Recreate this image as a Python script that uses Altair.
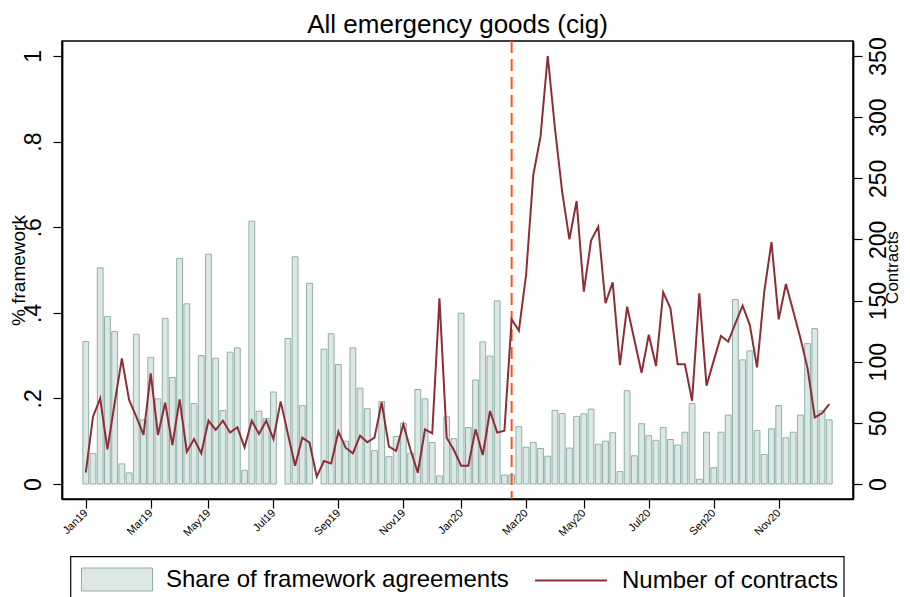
import altair as alt
import pandas as pd

week = list(range(104))

share = [0.333, 0.071, 0.505, 0.391, 0.356, 0.047, 0.026, 0.350, 0.150, 0.296,
         0.199, 0.387, 0.249, 0.527, 0.421, 0.188, 0.300, 0.537, 0.294, 0.172,
         0.308, 0.318, 0.032, 0.614, 0.170, 0.153, 0.215, None, 0.340, 0.531,
         0.183, 0.469, None, 0.315, 0.351, 0.279, 0.100, 0.318, 0.224, 0.176,
         0.078, 0.193, 0.064, 0.111, 0.142, 0.072, 0.221, 0.199, 0.097, 0.019,
         0.157, 0.106, 0.399, 0.132, 0.243, 0.332, 0.299, 0.428, 0.021, 0.021,
         0.134, 0.086, 0.097, 0.083, 0.065, 0.172, 0.165, 0.084, 0.158, 0.164,
         0.175, 0.093, 0.100, 0.120, 0.029, 0.218, 0.066, 0.141, 0.113, 0.102,
         0.132, 0.104, 0.091, 0.121, 0.188, 0.011, 0.121, 0.038, 0.121, 0.161,
         0.431, 0.290, 0.311, 0.125, 0.069, 0.129, 0.183, 0.108, 0.121, 0.161,
         0.328, 0.363, 0.171, 0.150]

contracts = [9.3, 55.1, 70.1, 28.4, 66.0, 102.8, 68.7, 55.1, 40.1, 90.5,
             40.1, 66.5, 31.9, 69.2, 26.4, 36.8, 25.1, 51.8, 44.2, 51.8,
             42.0, 46.4, 30.0, 51.8, 40.9, 51.8, 36.8, 67.6, 41.0, 15.0,
             37.9, 33.8, 6.0, 18.8, 16.9, 42.8, 29.7, 25.1, 39.5, 34.1,
             37.9, 66.8, 30.5, 27.2, 48.8, 27.8, 9.2, 44.7, 41.5, 151.9,
             37.9, 27.8, 15.0, 15.0, 44.7, 23.7, 59.7, 42.0, 43.6, 134.7,
             125.4, 170.9, 252.7, 284.0, 350.0, 290.9, 239.1, 200.1, 231.4, 157.3,
             199.0, 210.4, 147.8, 164.9, 97.3, 145.0, 118.0, 91.0, 122.1, 96.5,
             156.8, 143.7, 97.9, 97.9, 68.1, 155.9, 80.4, 100.9, 121.0, 116.4,
             131.4, 145.8, 130.0, 95.4, 157.3, 197.9, 134.7, 163.6, 141.7, 119.4,
             94.6, 54.5, 57.8, 65.4]

tick_weeks = [0, 9, 17, 26, 35, 44, 52, 61, 69, 78, 87, 96]
tick_labels = ["Jan19", "Mar19", "May19", "Jul19", "Sep19", "Nov19",
               "Jan20", "Mar20", "May20", "Jul20", "Sep20", "Nov20"]
event_week = [59]

share_ticks = [0, 0.2, 0.4, 0.6, 0.8, 1]
contract_ticks = [0, 50, 100, 150, 200, 250, 300, 350]

series_share = "Share of framework agreements"
series_count = "Number of contracts"

FONT = "Liberation Sans"
BAR_FILL = "#dde7e4"
BAR_STROKE = "#8db1aa"
LINE_COLOR = "#8f2d37"
DASH_COLOR = "#ff5219"

df = pd.DataFrame({"week": week, "share": share, "contracts": contracts})
df["s1"] = series_share
df["s2"] = series_count

W, H = 791, 458

xscale = alt.Scale(domain=[-2.6, 105.6], nice=False, zero=False)
label_expr = ("[" + ",".join(f"'{l}'" for l in tick_labels) + "][indexof(["
              + ",".join(str(t) for t in tick_weeks) + "], datum.value)]")

xaxis = alt.Axis(values=tick_weeks, labelExpr=label_expr, labelAngle=-45,
                 labelAlign="right", labelBaseline="middle", labelFontSize=11,
                 tickSize=9, labelPadding=3, grid=False, title=None,
                 domainColor="black", tickColor="black", labelColor="black",
                 domainWidth=1.5, tickWidth=1.2, labelFont=FONT)

left_axis = alt.Axis(values=share_ticks,
                     labelExpr="datum.value == 0 ? '0' : datum.value == 1 ? '1' : replace(format(datum.value, '.1f'), '0.', '.')",
                     labelAngle=270, labelAlign="center", labelBaseline="alphabetic",
                     labelPadding=13, labelFontSize=23, tickSize=9, tickWidth=1.2,
                     grid=False, domainColor="black", tickColor="black",
                     labelColor="black", domainWidth=1.8, labelFont=FONT,
                     title="% framework", titleFontSize=19, titleFontWeight="normal",
                     titleAngle=270, titleX=-38, titleY=229, titleAlign="center",
                     titleBaseline="alphabetic", titleColor="black", titleFont=FONT)

right_axis = alt.Axis(values=contract_ticks, orient="right",
                      labelAngle=270, labelAlign="center", labelBaseline="top",
                      labelPadding=5, labelFontSize=23, tickSize=9, tickWidth=1.2,
                      grid=False, domainColor="black", tickColor="black",
                      labelColor="black", domainWidth=1.8, labelFont=FONT,
                      title="Contracts", titleFontSize=17, titleFontWeight="normal",
                      titleAngle=270, titleX=44, titleY=226, titleAlign="center",
                      titleBaseline="alphabetic", titleColor="black", titleFont=FONT)

bars = alt.Chart(df).mark_bar(width=5.8, stroke=BAR_STROKE, strokeWidth=1).encode(
    x=alt.X("week:Q", scale=xscale, axis=xaxis),
    y=alt.Y("share:Q", scale=alt.Scale(domain=[-0.035, 1.035], nice=False, zero=False),
            axis=left_axis),
    y2=alt.datum(0),
    fill=alt.Fill("s1:N", scale=alt.Scale(domain=[series_share], range=[BAR_FILL]),
                  legend=alt.Legend(title=None, orient="none", legendX=19, legendY=502.5,
                                    symbolType="M-1,-0.324H1V0.324H-1Z", symbolSize=5041,
                                    symbolStrokeColor=BAR_STROKE, symbolStrokeWidth=1,
                                    symbolOpacity=1, labelFontSize=24, labelFont=FONT,
                                    labelColor="black", labelOffset=13, labelLimit=0,
                                    padding=0)),
)

line = alt.Chart(df).mark_line(strokeWidth=2).encode(
    x=alt.X("week:Q", scale=xscale, axis=xaxis),
    y=alt.Y("contracts:Q", scale=alt.Scale(domain=[-0.035 * 350, 1.035 * 350], nice=False, zero=False),
            axis=right_axis),
    stroke=alt.Stroke("s2:N", scale=alt.Scale(domain=[series_count], range=[LINE_COLOR]),
                      legend=alt.Legend(title=None, orient="none", legendX=472, legendY=502.5,
                                        symbolType="stroke", symbolSize=5184,
                                        symbolStrokeWidth=2, labelFontSize=24, labelFont=FONT,
                                        labelColor="black", labelOffset=14, labelLimit=0,
                                        padding=0)),
)

rule = alt.Chart(pd.DataFrame({"week": event_week})).mark_rule(
    color=DASH_COLOR, strokeWidth=2, strokeDash=[12, 6]
).encode(x=alt.X("week:Q", scale=xscale, axis=xaxis))

legend_box = alt.Chart(pd.DataFrame({"k": [0]})).mark_rect(
    fill="transparent", stroke="black", strokeWidth=1.2
).encode(x=alt.value(8.7), x2=alt.value(782), y=alt.value(515.7), y2=alt.value(570))

left_layer = alt.layer(bars, rule)
chart = alt.layer(left_layer, line, legend_box).resolve_scale(
    y="independent", fill="independent", stroke="independent"
).properties(
    width=W, height=H,
    title=alt.TitleParams("All emergency goods (cig)", fontSize=26, fontWeight="normal",
                          anchor="middle", frame="group", offset=11, dy=33,
                          baseline="alphabetic", color="black", font=FONT),
    autosize=alt.AutoSizeParams(type="none"),
    padding={"left": 54, "top": 33, "right": 49, "bottom": 100},
).configure(font=FONT).configure_view(stroke="black", strokeWidth=1.5)

chart.save("out.html", embed_options={"renderer": "svg", "actions": False})
